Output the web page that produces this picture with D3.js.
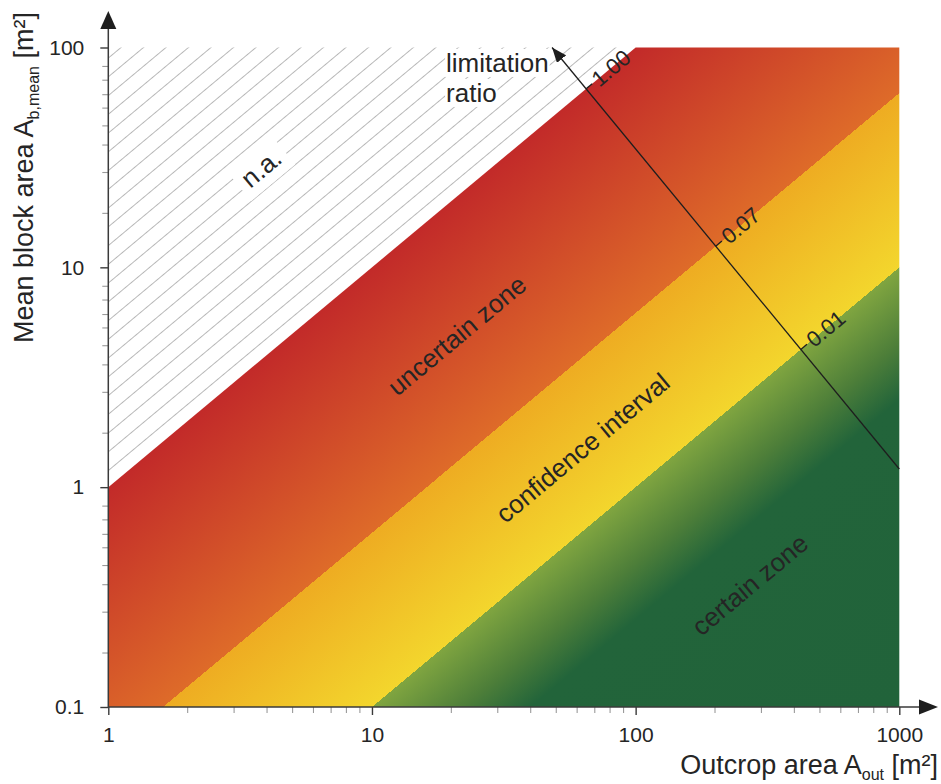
<!DOCTYPE html>
<html>
<head>
<meta charset="utf-8">
<script src="https://cdn.jsdelivr.net/npm/d3@7"></script>
<style>
body { margin: 0; background: #fff; }
svg { display: block; font-family: "Liberation Sans", Arial, Helvetica, sans-serif; }
</style>
</head>
<body>
<div id="chart"></div>
<script>
// axis values
var xTicks = [1, 10, 100, 1000];
var yTicks = [0.1, 1, 10, 100];
var xMinorSteps = [2, 3, 4, 5, 6, 7, 8, 9];
var yMinorSteps = [1.76, 2.7, 3.6, 4.4, 5.3, 6.1, 7.1, 8.2]; // minor ticks as placed in the original (off the log grid)

// limitation ratio = A_b,mean / A_out
var zoneRatios = [1, 0.062, 0.01];
var zoneRatioLabels = ["1.00", "0.07", "0.01"];

// colour ramp across the zones, keyed by limitation ratio
var rampRatios = [1, 0.062, 0.062, 0.01, 0.01, 0.0045, 0.0025, 0.0001];
var rampColors = ["#c22a29", "#de6b29", "#eeac22", "#f3d62d", "#80a540", "#4d7e39", "#22643a", "#21633a"];

// zone labels (centre in data units)
var zoneNames = ["n.a.", "uncertain zone", "confidence interval", "certain zone"];
var zoneLabelX = [3.8, 21, 63, 271];
var zoneLabelY = [28.3, 4.9, 1.51, 0.36];

// limitation ratio arrow (from, to) in data units
var arrowFrom = [1000, 1.21];
var arrowTo = [48.2, 100];
var arrowTitle = ["limitation", "ratio"];
var arrowTitleAt = [19.1, 77.4];

const width = 941;
const height = 784;
const plot = {left: 108.3, right: 899.3, top: 47.5, bottom: 707};
const textColor = "#252525";
const fontFamily = "'Liberation Sans', Arial, Helvetica, sans-serif";

var svg = d3.select("#chart").append("svg")
	.attr("width", width)
	.attr("height", height)
	.attr("font-family", fontFamily);

var x = d3.scaleLog().domain([1, 1000]).range([plot.left, plot.right]);
var y = d3.scaleLog().domain([0.1, 100]).range([plot.bottom, plot.top]);

// geometry of lines of constant ratio (slope 1 in log-log)
var kx = x(10) - x(1), ky = y(1) - y(10);
var norm = Math.hypot(kx, ky);
var angle = -Math.atan2(ky, kx) * 180 / Math.PI;
var u = [kx / norm, -ky / norm];   // along the zone boundaries
var nrm = [ky / norm, kx / norm];  // across the zones, towards small ratios
var pxPerDecade = norm / (kx / ky + ky / kx);

var defs = svg.append("defs");

// colour ramp
var g0 = [x(1), y(1)];
var grad = defs.append("linearGradient")
	.attr("id", "ramp")
	.attr("gradientUnits", "userSpaceOnUse")
	.attr("x1", g0[0]).attr("y1", g0[1])
	.attr("x2", g0[0] + nrm[0] * pxPerDecade * 4)
	.attr("y2", g0[1] + nrm[1] * pxPerDecade * 4);
rampRatios.forEach(function(r, i) {
	grad.append("stop")
		.attr("offset", -Math.log10(r) / 4)
		.attr("stop-color", rampColors[i]);
});

// hatching for the n.a. field
var hatchGap = 14.4;
var hatchStart = [x(1), y(1.19)];
var hatch = defs.append("pattern")
	.attr("id", "hatch")
	.attr("patternUnits", "userSpaceOnUse")
	.attr("width", 20)
	.attr("height", hatchGap)
	.attr("patternTransform", `translate(${hatchStart[0]},${hatchStart[1]}) rotate(${angle}) translate(0,${-hatchGap / 2})`);
hatch.append("line")
	.attr("x1", 0).attr("x2", 20)
	.attr("y1", hatchGap / 2).attr("y2", hatchGap / 2)
	.attr("stroke", "#9a9a9a")
	.attr("stroke-width", 0.7);

defs.append("marker")
	.attr("id", "arrowhead")
	.attr("markerUnits", "userSpaceOnUse")
	.attr("markerWidth", 16).attr("markerHeight", 12)
	.attr("refX", 15).attr("refY", 6)
	.attr("orient", "auto")
	.append("path")
	.attr("d", "M0,0 L15,6 L0,12 Z")
	.attr("fill", "#1e1e1e");

// fields
var line = d3.line().x(d => x(d[0])).y(d => y(d[1]));
var xd = x.domain(), yd = y.domain();
var r1 = zoneRatios[0];

svg.append("path")
	.attr("d", line([[xd[0], xd[0] * r1], [xd[0], yd[1]], [yd[1] / r1, yd[1]]]) + "Z")
	.attr("fill", "url(#hatch)");

svg.append("path")
	.attr("d", line([[xd[0], yd[0]], [xd[0], xd[0] * r1], [yd[1] / r1, yd[1]], [xd[1], yd[1]], [xd[1], yd[0]]]) + "Z")
	.attr("fill", "url(#ramp)");

// minor ticks
var xMinor = [], yMinor = [];
[1, 10, 100].forEach(function(d) { xMinorSteps.forEach(function(s) { xMinor.push(s * d); }); });
[0.1, 1, 10].forEach(function(d) { yMinorSteps.forEach(function(s) { yMinor.push(s * d); }); });

svg.append("g").selectAll("line").data(xMinor).join("line")
	.attr("x1", d => x(d)).attr("x2", d => x(d))
	.attr("y1", plot.bottom).attr("y2", plot.bottom + 6)
	.attr("stroke", "#9a9a9a").attr("stroke-width", 1.1);

svg.append("g").selectAll("line").data(yMinor).join("line")
	.attr("y1", d => y(d)).attr("y2", d => y(d))
	.attr("x1", plot.left).attr("x2", plot.left - 6)
	.attr("stroke", "#9a9a9a").attr("stroke-width", 1.1);

// major axes
var xAxis = d3.axisBottom(x).tickValues(xTicks).tickSize(8).tickPadding(12).tickFormat(d3.format("~g"));
var yAxis = d3.axisLeft(y).tickValues(yTicks).tickSize(8).tickPadding(16).tickFormat(d3.format("~g"));

var gx = svg.append("g")
	.attr("transform", `translate(0,${plot.bottom})`)
	.call(xAxis);
var gy = svg.append("g")
	.attr("transform", `translate(${plot.left},0)`)
	.call(yAxis);

[gx, gy].forEach(function(g) {
	g.attr("font-size", 21).attr("font-family", fontFamily);
	g.select(".domain").remove();
	g.selectAll(".tick line").attr("stroke", "#3a3a3a").attr("stroke-width", 1.4);
	g.selectAll(".tick text").attr("fill", textColor);
});

// axis lines with arrows
svg.append("line")
	.attr("x1", plot.left).attr("x2", 922)
	.attr("y1", plot.bottom).attr("y2", plot.bottom)
	.attr("stroke", "#3a3a3a").attr("stroke-width", 1.5);
svg.append("path")
	.attr("d", `M938,${plot.bottom} L919,${plot.bottom - 7.5} L919,${plot.bottom + 7.5} Z`)
	.attr("fill", "#1e1e1e");

svg.append("line")
	.attr("x1", plot.left).attr("x2", plot.left)
	.attr("y1", plot.bottom).attr("y2", 26)
	.attr("stroke", "#3a3a3a").attr("stroke-width", 1.5);
svg.append("path")
	.attr("d", `M${plot.left},11 L${plot.left - 8},29 L${plot.left + 8},29 Z`)
	.attr("fill", "#1e1e1e");

// axis titles
var xt = svg.append("text")
	.attr("x", 938).attr("y", 774)
	.attr("text-anchor", "end")
	.attr("fill", textColor)
	.attr("font-size", 27);
xt.append("tspan").text("Outcrop area A");
xt.append("tspan").attr("dy", 6).attr("font-size", 16).text("out");
xt.append("tspan").attr("dy", -6).text(" [m²]");

var yt = svg.append("text")
	.attr("transform", "translate(33,12) rotate(-90)")
	.attr("text-anchor", "end")
	.attr("fill", textColor)
	.attr("font-size", 27);
yt.append("tspan").text("Mean block area A");
yt.append("tspan").attr("dy", 6).attr("font-size", 16).text("b,mean");
yt.append("tspan").attr("dy", -6).text(" [m²]");

// zone labels
zoneNames.forEach(function(name, i) {
	var g = svg.append("g")
		.attr("transform", `translate(${x(zoneLabelX[i])},${y(zoneLabelY[i])}) rotate(${angle})`);
	var t = g.append("text")
		.attr("text-anchor", "middle")
		.attr("dy", "0.35em")
		.attr("fill", textColor)
		.attr("font-size", 26)
		.text(name);
	if (i === 0) {
		var b = t.node().getBBox();
		g.insert("rect", "text")
			.attr("x", b.x - 7).attr("y", b.y - 4)
			.attr("width", b.width + 14).attr("height", b.height + 8)
			.attr("fill", "#fff");
	}
});

// limitation ratio arrow
svg.append("line")
	.attr("x1", x(arrowFrom[0])).attr("y1", y(arrowFrom[1]))
	.attr("x2", x(arrowTo[0])).attr("y2", y(arrowTo[1]))
	.attr("stroke", "#1e1e1e").attr("stroke-width", 1.3)
	.attr("marker-end", "url(#arrowhead)");

var lx0 = Math.log10(arrowFrom[0]), ly0 = Math.log10(arrowFrom[1]);
var lx1 = Math.log10(arrowTo[0]), ly1 = Math.log10(arrowTo[1]);
zoneRatios.forEach(function(r, i) {
	var t = (Math.log10(r) - (ly0 - lx0)) / ((ly1 - lx1) - (ly0 - lx0));
	var px = x(Math.pow(10, lx0 + t * (lx1 - lx0)));
	var py = y(Math.pow(10, ly0 + t * (ly1 - ly0)));
	svg.append("line")
		.attr("x1", px).attr("y1", py)
		.attr("x2", px + u[0] * 8).attr("y2", py + u[1] * 8)
		.attr("stroke", "#1e1e1e").attr("stroke-width", 1.3);
	svg.append("text")
		.attr("transform", `translate(${px + u[0] * 11},${py + u[1] * 11}) rotate(${angle})`)
		.attr("dy", "0.35em")
		.attr("fill", textColor)
		.attr("font-size", 22)
		.text(zoneRatioLabels[i]);
});

arrowTitle.forEach(function(s, i) {
	var t = svg.append("text")
		.attr("x", x(arrowTitleAt[0]))
		.attr("y", y(arrowTitleAt[1]) + i * 30)
		.attr("fill", textColor)
		.attr("font-size", 26)
		.text(s);
	var b = t.node().getBBox();
	svg.insert("rect", () => t.node())
		.attr("x", b.x - 1).attr("y", b.y + 1)
		.attr("width", b.width + 2).attr("height", b.height - 2)
		.attr("fill", "#fff");
});
</script>
</body>
</html>
